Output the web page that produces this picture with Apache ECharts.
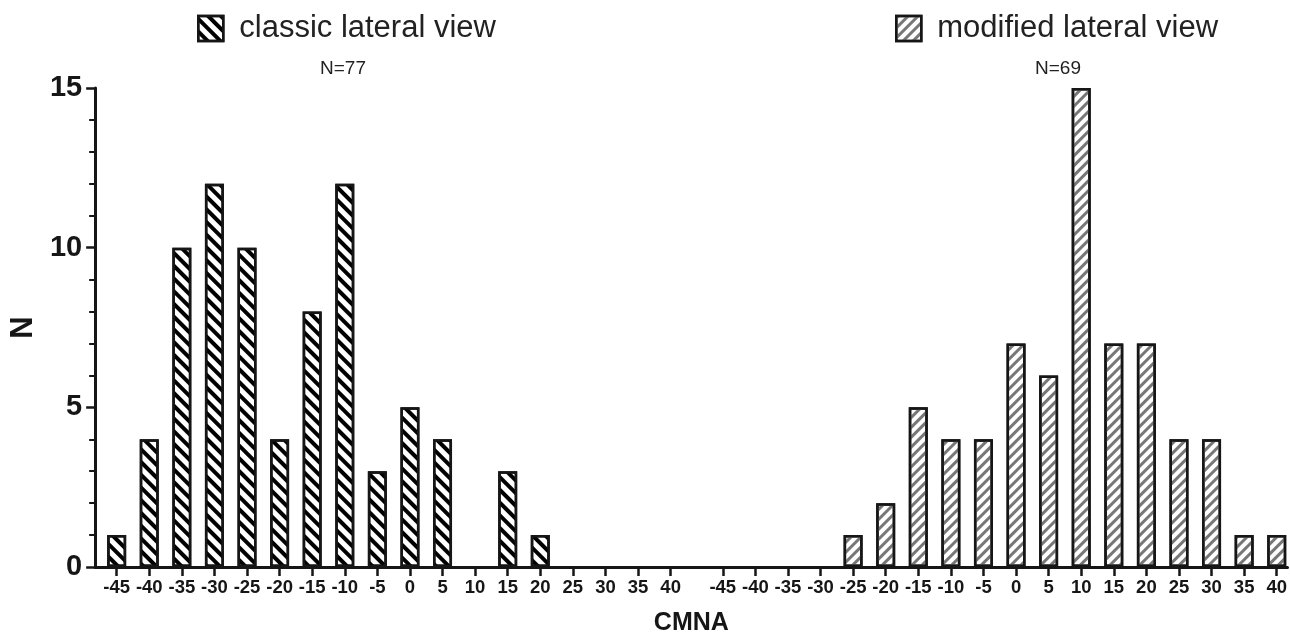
<!DOCTYPE html>
<html>
<head>
<meta charset="utf-8">
<script src="https://cdn.jsdelivr.net/npm/echarts@6/dist/echarts.min.js"></script>
<style>
html,body{margin:0;padding:0;background:#fff;}
#chart{width:1290px;height:641px;}
</style>
</head>
<body>
<div id="chart"></div>
<script>
// ---- data ----
const cmnaLabels = ['-45','-40','-35','-30','-25','-20','-15','-10','-5','0','5','10','15','20','25','30','35','40'];
const classicCounts  = [1,4,10,12,10,4,8,12,3,5,4,0,3,1,0,0,0,0];
const modifiedCounts = [0,0,0,0,1,2,5,4,4,7,6,15,7,7,4,4,1,1];
const seriesNames = ['classic lateral view','modified lateral view'];
const groupTotals = ['N=77','N=69'];
const yTickValues = [0,5,10,15];

// ---- layout ----
const GROUP2_OFFSET = 18.6; // horizontal gap between the two histogram blocks (in slot units)
const pos1 = cmnaLabels.map((_, i) => i);
const pos2 = cmnaLabels.map((_, i) => +(i + GROUP2_OFFSET).toFixed(2));
const allPos = pos1.concat(pos2);
const labelAt = {};
pos1.forEach((p, i) => labelAt[p] = cmnaLabels[i]);
pos2.forEach((p, i) => labelAt[p] = cmnaLabels[i]);

const FONT = "'Liberation Sans', Arial, Helvetica, sans-serif";
const INK = '#161616';

const classicData = [];
classicCounts.forEach((v, i) => { if (v > 0) classicData.push([pos1[i], v]); });
const modifiedData = [];
modifiedCounts.forEach((v, i) => { if (v > 0) modifiedData.push([pos2[i], v]); });

const chart = echarts.init(document.getElementById('chart'), null, {renderer: 'canvas'});

const legendCommon = {
  top: 13, padding: 0, icon: 'rect', itemWidth: 25, itemHeight: 25,
  selectedMode: false,
  itemStyle: {borderColor: INK, borderWidth: 2.5},
  textStyle: {fontFamily: FONT, fontSize: 31, color: '#222', padding: [0, 0, 0, 11]}
};

chart.setOption({
  animation: false,
  backgroundColor: '#fff',
  textStyle: {fontFamily: FONT},
  title: [
    {text: groupTotals[0], left: 343, top: 59, textAlign: 'center', padding: 0,
     textStyle: {fontFamily: FONT, fontSize: 19, fontWeight: 'normal', color: '#222'}},
    {text: groupTotals[1], left: 1058, top: 59, textAlign: 'center', padding: 0,
     textStyle: {fontFamily: FONT, fontSize: 19, fontWeight: 'normal', color: '#222'}}
  ],
  legend: [
    Object.assign({}, legendCommon, {left: 197, data: [seriesNames[0]]}),
    Object.assign({}, legendCommon, {left: 895, data: [seriesNames[1]]})
  ],
  grid: {left: 93, right: 2, top: 88, bottom: 70, containLabel: false},
  xAxis: {
    type: 'value',
    min: -0.66, max: 35.93,
    splitLine: {show: false},
    axisLine: {show: true, onZero: false, lineStyle: {color: INK, width: 3}},
    axisTick: {show: true, customValues: allPos, length: 9, lineStyle: {color: INK, width: 2.5}},
    axisLabel: {
      customValues: allPos,
      formatter: v => labelAt[+(+v).toFixed(2)] || '',
      fontFamily: FONT, fontSize: 18.5, fontWeight: 'bold', color: INK, margin: 11
    },
    name: 'CMNA', nameLocation: 'middle', nameGap: 44,
    nameTextStyle: {fontFamily: FONT, fontSize: 25, fontWeight: 'bold', color: INK}
  },
  yAxis: {
    type: 'value', min: 0, max: 15, interval: 5,
    splitLine: {show: false},
    axisLine: {show: true, onZero: false, lineStyle: {color: INK, width: 3}},
    axisTick: {show: true, length: 9, lineStyle: {color: INK, width: 2.5}},
    minorTick: {show: true, splitNumber: 5, length: 6, lineStyle: {color: INK, width: 2}},
    axisLabel: {
      customValues: yTickValues,
      fontFamily: FONT, fontSize: 29, fontWeight: 'bold', color: INK, margin: 13
    },
    name: 'N', nameLocation: 'middle', nameGap: 52,
    nameTextStyle: {fontFamily: FONT, fontSize: 31, fontWeight: 'bold', color: INK}
  },
  series: [
    {
      name: seriesNames[0], type: 'bar', data: classicData,
      barWidth: 19, barGap: '-100%',
      itemStyle: {
        color: '#fff', borderColor: INK, borderWidth: 2.5,
        decal: {symbol: 'rect', symbolSize: 1, dashArrayX: [[1, 0]], dashArrayY: [3.5, 5],
                rotation: Math.PI / 4, color: '#000'}
      }
    },
    {
      name: seriesNames[1], type: 'bar', data: modifiedData,
      barWidth: 19, barGap: '-100%',
      itemStyle: {
        color: '#fff', borderColor: INK, borderWidth: 2.5,
        decal: {symbol: 'rect', symbolSize: 1, dashArrayX: [[1, 0]], dashArrayY: [2.2, 3.6],
                rotation: -Math.PI / 4, color: '#777'}
      }
    }
  ]
});
</script>
</body>
</html>
